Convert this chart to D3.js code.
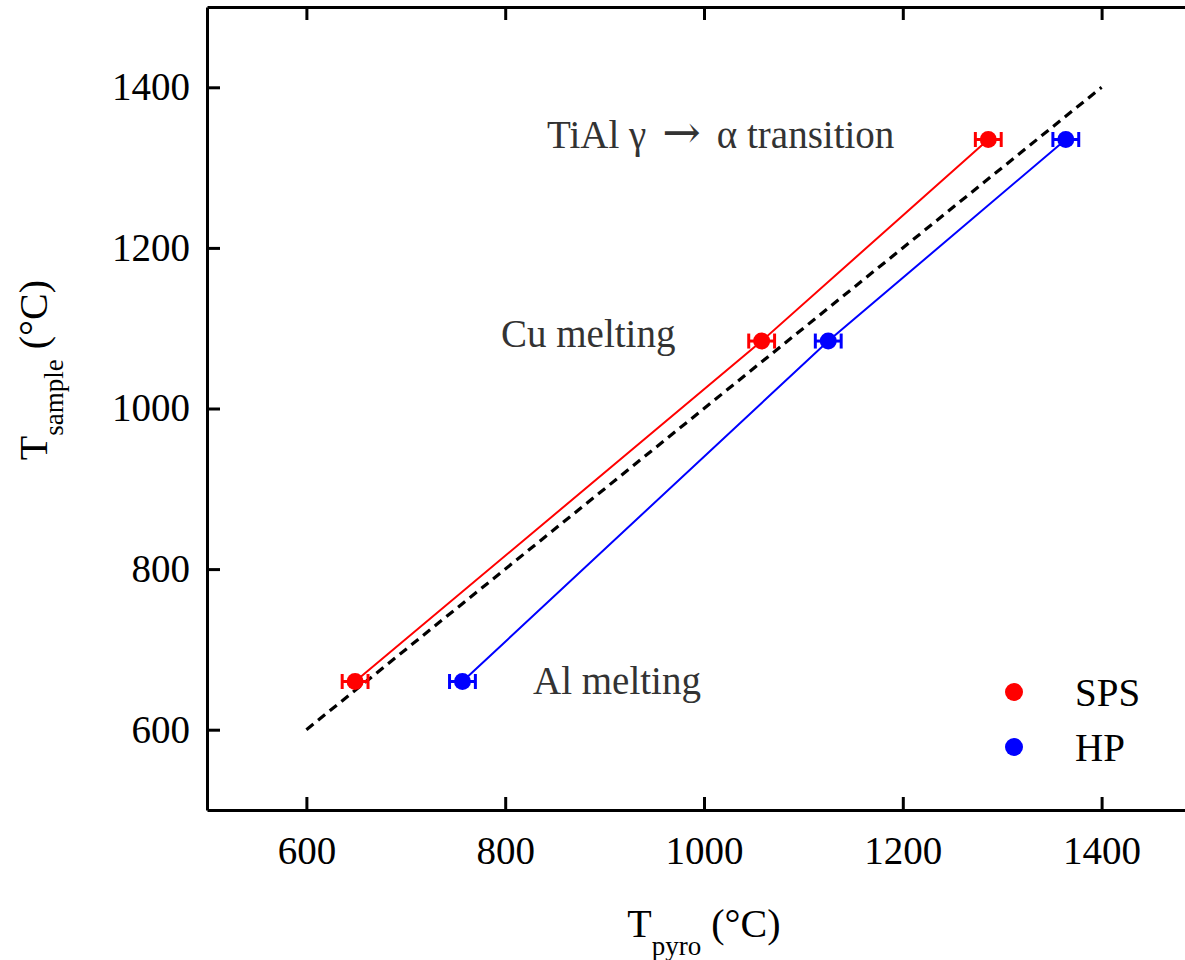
<!DOCTYPE html>
<html>
<head>
<meta charset="utf-8">
<script src="https://cdn.jsdelivr.net/npm/d3@7"></script>
<style>
  html, body { margin: 0; padding: 0; background: #fff; }
  svg { display: block; font-family: "Liberation Serif", "Times New Roman", serif; }
</style>
</head>
<body>
<svg id="chart" width="1185" height="960"></svg>
<script>
// ---- data ----
const transitions = ["Al melting", "Cu melting", "TiAl γ → α transition"];
const sampleTemps = [660, 1084, 1335];          // T_sample (°C)
const spsPyro     = [649, 1058, 1286];          // SPS: T_pyro (°C)
const hpPyro      = [757, 1125, 1364];          // HP:  T_pyro (°C)
const pyroErr     = [13, 13, 13];               // horizontal error (°C)
const identityLine = [[600, 600], [1400, 1400]];
const xTicks = [600, 800, 1000, 1200, 1400];
const yTicks = [600, 800, 1000, 1200, 1400];
const seriesNames = ["SPS", "HP"];
const seriesColors = ["#ff0000", "#0000ff"];

// ---- layout ----
const svg = d3.select("#chart");
const x = d3.scaleLinear().domain([500, 1500]).range([207, 1201]);
const y = d3.scaleLinear().domain([500, 1500]).range([810, 7]);
const fontSize = 39;

// ---- axes (ticks inward, mirrored) ----
const tickLen = 13;
function styleAxis(g) {
  g.selectAll("path.domain").attr("stroke", "#000").attr("stroke-width", 3);
  g.selectAll(".tick line").attr("stroke", "#000").attr("stroke-width", 3);
  g.selectAll(".tick text").attr("fill", "#000").style("font-size", fontSize + "px")
    .style("font-family", '"Liberation Serif", "Times New Roman", serif');
}
svg.append("g").attr("transform", `translate(0,${y(500)})`)
  .call(d3.axisBottom(x).tickValues(xTicks).tickSize(-tickLen).tickSizeOuter(0).tickPadding(26).tickFormat(d3.format("d")))
  .call(styleAxis);
svg.append("g").attr("transform", `translate(0,${y(1500)})`)
  .call(d3.axisTop(x).tickValues(xTicks).tickSize(-tickLen).tickSizeOuter(0).tickFormat(""))
  .call(styleAxis);
svg.append("g").attr("transform", `translate(${x(500)},0)`)
  .call(d3.axisLeft(y).tickValues(yTicks).tickSize(-tickLen).tickSizeOuter(0).tickPadding(17).tickFormat(d3.format("d")))
  .call(styleAxis);
svg.append("g").attr("transform", `translate(${x(1500)},0)`)
  .call(d3.axisRight(y).tickValues(yTicks).tickSize(-tickLen).tickSizeOuter(0).tickFormat(""))
  .call(styleAxis);

// ---- identity dashed line ----
svg.append("path")
  .datum(identityLine)
  .attr("d", d3.line().x(d => x(d[0])).y(d => y(d[1])))
  .attr("fill", "none").attr("stroke", "#000").attr("stroke-width", 3.2)
  .attr("stroke-dasharray", "9,6");

// ---- series ----
const series = [spsPyro, hpPyro].map((xs, si) => ({
  name: seriesNames[si], color: seriesColors[si],
  pts: xs.map((v, i) => ({ x: v, y: sampleTemps[i], e: pyroErr[i] }))
}));

series.forEach(s => {
  const g = svg.append("g");
  g.append("path").datum(s.pts)
    .attr("d", d3.line().x(d => x(d.x)).y(d => y(d.y)))
    .attr("fill", "none").attr("stroke", s.color).attr("stroke-width", 2);
  const eb = g.selectAll("g.eb").data(s.pts).join("g");
  eb.append("line")
    .attr("x1", d => x(d.x - d.e)).attr("x2", d => x(d.x + d.e))
    .attr("y1", d => y(d.y)).attr("y2", d => y(d.y))
    .attr("stroke", s.color).attr("stroke-width", 3);
  [-1, 1].forEach(sg => {
    eb.append("line")
      .attr("x1", d => x(d.x + sg * d.e)).attr("x2", d => x(d.x + sg * d.e))
      .attr("y1", d => y(d.y) - 7.5).attr("y2", d => y(d.y) + 7.5)
      .attr("stroke", s.color).attr("stroke-width", 3);
  });
  g.selectAll("circle").data(s.pts).join("circle")
    .attr("cx", d => x(d.x)).attr("cy", d => y(d.y)).attr("r", 8.5)
    .attr("fill", s.color);
});

// ---- annotations ----
const annLeft = [533, 501, 547];
const annDy = [12, 6, 9];
svg.selectAll("text.ann").data(transitions).join("text")
  .attr("class", "ann")
  .attr("x", (d, i) => annLeft[i])
  .attr("y", (d, i) => y(sampleTemps[i]) + annDy[i])
  .attr("fill", "#333").style("font-size", fontSize + "px")
  .each(function(d) {
    const t = d3.select(this);
    const parts = d.split(" → ");
    if (parts.length === 2) {
      t.append("tspan").text(parts[0]);
      t.append("tspan").attr("dx", 16).style("font-size", "46px").style("font-family", '"DejaVu Serif", serif')
        .attr("dy", 0).text("→");
      t.append("tspan").attr("dx", 16).text(parts[1]);
    } else {
      t.text(d);
    }
  });

// ---- legend ----
const leg = svg.append("g");
series.forEach((s, i) => {
  leg.append("circle").attr("cx", 1014).attr("cy", 692 + i * 55).attr("r", 9).attr("fill", s.color);
  leg.append("text").attr("x", 1075).attr("y", 706 + i * 55)
    .style("font-size", fontSize + "px").attr("fill", "#000").text(s.name);
});

// ---- axis titles ----
const xt = svg.append("text").attr("x", x(1000)).attr("y", 937)
  .attr("text-anchor", "middle").style("font-size", "40px").attr("fill", "#000");
xt.append("tspan").text("T");
xt.append("tspan").attr("dy", 18).style("font-size", "27px").text("pyro");
xt.append("tspan").attr("dy", -18).text(" (°C)");

const yt = svg.append("text").attr("transform", "translate(47,370) rotate(-90)")
  .attr("text-anchor", "middle").style("font-size", "40px").attr("fill", "#000");
yt.append("tspan").text("T");
yt.append("tspan").attr("dy", 16).style("font-size", "27px").text("sample");
yt.append("tspan").attr("dy", -16).text(" (°C)");
</script>
</body>
</html>
